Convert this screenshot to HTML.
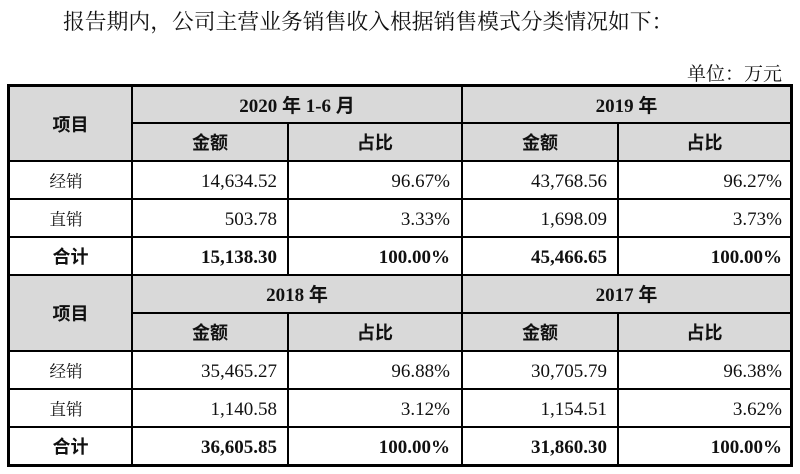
<!DOCTYPE html>
<html><head><meta charset="utf-8"><style>
html,body{margin:0;padding:0}
body{width:800px;height:474px;background:#fff;position:relative;overflow:hidden;font-family:"Liberation Serif","Noto Serif CJK SC",serif;color:#111}
.h{position:absolute;background:#000;height:2px}
.v{position:absolute;background:#000;width:2px}
.g{position:absolute;background:#d9d9d9}
.c{position:absolute;display:flex;align-items:center;font-size:19px;white-space:nowrap;box-sizing:border-box;line-height:1}
.r{justify-content:flex-end}
.m{justify-content:center}
.b{font-weight:bold;font-family:"Liberation Serif","Noto Sans CJK SC",sans-serif}
.cj{font-family:"Noto Serif CJK SC",serif;font-size:16.5px;padding-right:9px}
.cb{font-family:"Noto Sans CJK SC",sans-serif;font-weight:bold;font-size:18px}
.c2{left:133px;width:154px;padding-right:10px}
.c3{left:289px;width:172px;padding-right:11px}
.c4{left:463px;width:154px;padding-right:10px}
.c5{left:619px;width:171px;padding-right:8px}
.c1{left:10px;width:121px}
.fw{display:inline-block;width:1em}
</style></head><body>

<div style="position:absolute;left:63px;top:9px;font-family:'Noto Serif CJK SC',serif;font-size:21.8px;line-height:24px;white-space:nowrap;color:#111">报告期内<span class="fw">，</span>公司主营业务销售收入根据销售模式分类情况如下<span class="fw">：</span></div>
<div style="position:absolute;right:18px;top:62px;font-family:'Noto Serif CJK SC',serif;font-size:19px;line-height:22px;white-space:nowrap;color:#111">单位<span class="fw">：</span>万元</div>

<!-- gray fills -->
<div class="g" style="left:10px;top:87px;width:780px;height:74px"></div>
<div class="g" style="left:10px;top:276px;width:780px;height:75px"></div>

<!-- outer border -->
<div class="h" style="left:7px;top:84px;width:786px;height:3px"></div>
<div class="h" style="left:7px;top:464px;width:786px;height:3px"></div>
<div class="v" style="left:7px;top:84px;height:383px;width:3px"></div>
<div class="v" style="left:790px;top:84px;height:383px;width:3px"></div>

<!-- inner verticals -->
<div class="v" style="left:131px;top:84px;height:383px"></div>
<div class="v" style="left:287px;top:122px;height:152px"></div>
<div class="v" style="left:287px;top:312px;height:155px"></div>
<div class="v" style="left:461px;top:84px;height:383px"></div>
<div class="v" style="left:617px;top:122px;height:152px"></div>
<div class="v" style="left:617px;top:312px;height:155px"></div>

<!-- horizontals -->
<div class="h" style="left:131px;top:122px;width:661px"></div>
<div class="h" style="left:7px;top:160px;width:786px"></div>
<div class="h" style="left:7px;top:198px;width:786px"></div>
<div class="h" style="left:7px;top:236px;width:786px"></div>
<div class="h" style="left:7px;top:274px;width:786px"></div>
<div class="h" style="left:131px;top:312px;width:661px"></div>
<div class="h" style="left:7px;top:350px;width:786px"></div>
<div class="h" style="left:7px;top:388px;width:786px"></div>
<div class="h" style="left:7px;top:426px;width:786px"></div>

<!-- block 1 header -->
<div class="c m c1 cb" style="top:87px;height:73px">项目</div>
<div class="c m b" style="left:133px;width:328px;top:88px;height:36px">2020 年 1-6 月</div>
<div class="c m b" style="left:463px;width:327px;top:88px;height:36px">2019 年</div>
<div class="c m cb" style="left:133px;width:154px;top:124px;height:36px">金额</div>
<div class="c m cb" style="left:289px;width:172px;top:124px;height:36px">占比</div>
<div class="c m cb" style="left:463px;width:154px;top:124px;height:36px">金额</div>
<div class="c m cb" style="left:619px;width:171px;top:124px;height:36px">占比</div>

<!-- block 1 rows -->
<div class="c m c1 cj" style="top:162px;height:36px">经销</div>
<div class="c r c2" style="top:163px;height:36px">14,634.52</div>
<div class="c r c3" style="top:163px;height:36px">96.67%</div>
<div class="c r c4" style="top:163px;height:36px">43,768.56</div>
<div class="c r c5" style="top:163px;height:36px">96.27%</div>

<div class="c m c1 cj" style="top:200px;height:36px">直销</div>
<div class="c r c2" style="top:201px;height:36px">503.78</div>
<div class="c r c3" style="top:201px;height:36px">3.33%</div>
<div class="c r c4" style="top:201px;height:36px">1,698.09</div>
<div class="c r c5" style="top:201px;height:36px">3.73%</div>

<div class="c m c1 cb" style="top:238px;height:36px">合计</div>
<div class="c r c2 b" style="top:239px;height:36px">15,138.30</div>
<div class="c r c3 b" style="top:239px;height:36px">100.00%</div>
<div class="c r c4 b" style="top:239px;height:36px">45,466.65</div>
<div class="c r c5 b" style="top:239px;height:36px">100.00%</div>

<!-- block 2 header -->
<div class="c m c1 cb" style="top:276px;height:74px">项目</div>
<div class="c m b" style="left:133px;width:328px;top:277px;height:36px">2018 年</div>
<div class="c m b" style="left:463px;width:327px;top:277px;height:36px">2017 年</div>
<div class="c m cb" style="left:133px;width:154px;top:314px;height:36px">金额</div>
<div class="c m cb" style="left:289px;width:172px;top:314px;height:36px">占比</div>
<div class="c m cb" style="left:463px;width:154px;top:314px;height:36px">金额</div>
<div class="c m cb" style="left:619px;width:171px;top:314px;height:36px">占比</div>

<!-- block 2 rows -->
<div class="c m c1 cj" style="top:352px;height:36px">经销</div>
<div class="c r c2" style="top:353px;height:36px">35,465.27</div>
<div class="c r c3" style="top:353px;height:36px">96.88%</div>
<div class="c r c4" style="top:353px;height:36px">30,705.79</div>
<div class="c r c5" style="top:353px;height:36px">96.38%</div>

<div class="c m c1 cj" style="top:390px;height:36px">直销</div>
<div class="c r c2" style="top:391px;height:36px">1,140.58</div>
<div class="c r c3" style="top:391px;height:36px">3.12%</div>
<div class="c r c4" style="top:391px;height:36px">1,154.51</div>
<div class="c r c5" style="top:391px;height:36px">3.62%</div>

<div class="c m c1 cb" style="top:428px;height:36px">合计</div>
<div class="c r c2 b" style="top:429px;height:36px">36,605.85</div>
<div class="c r c3 b" style="top:429px;height:36px">100.00%</div>
<div class="c r c4 b" style="top:429px;height:36px">31,860.30</div>
<div class="c r c5 b" style="top:429px;height:36px">100.00%</div>

</body></html>
